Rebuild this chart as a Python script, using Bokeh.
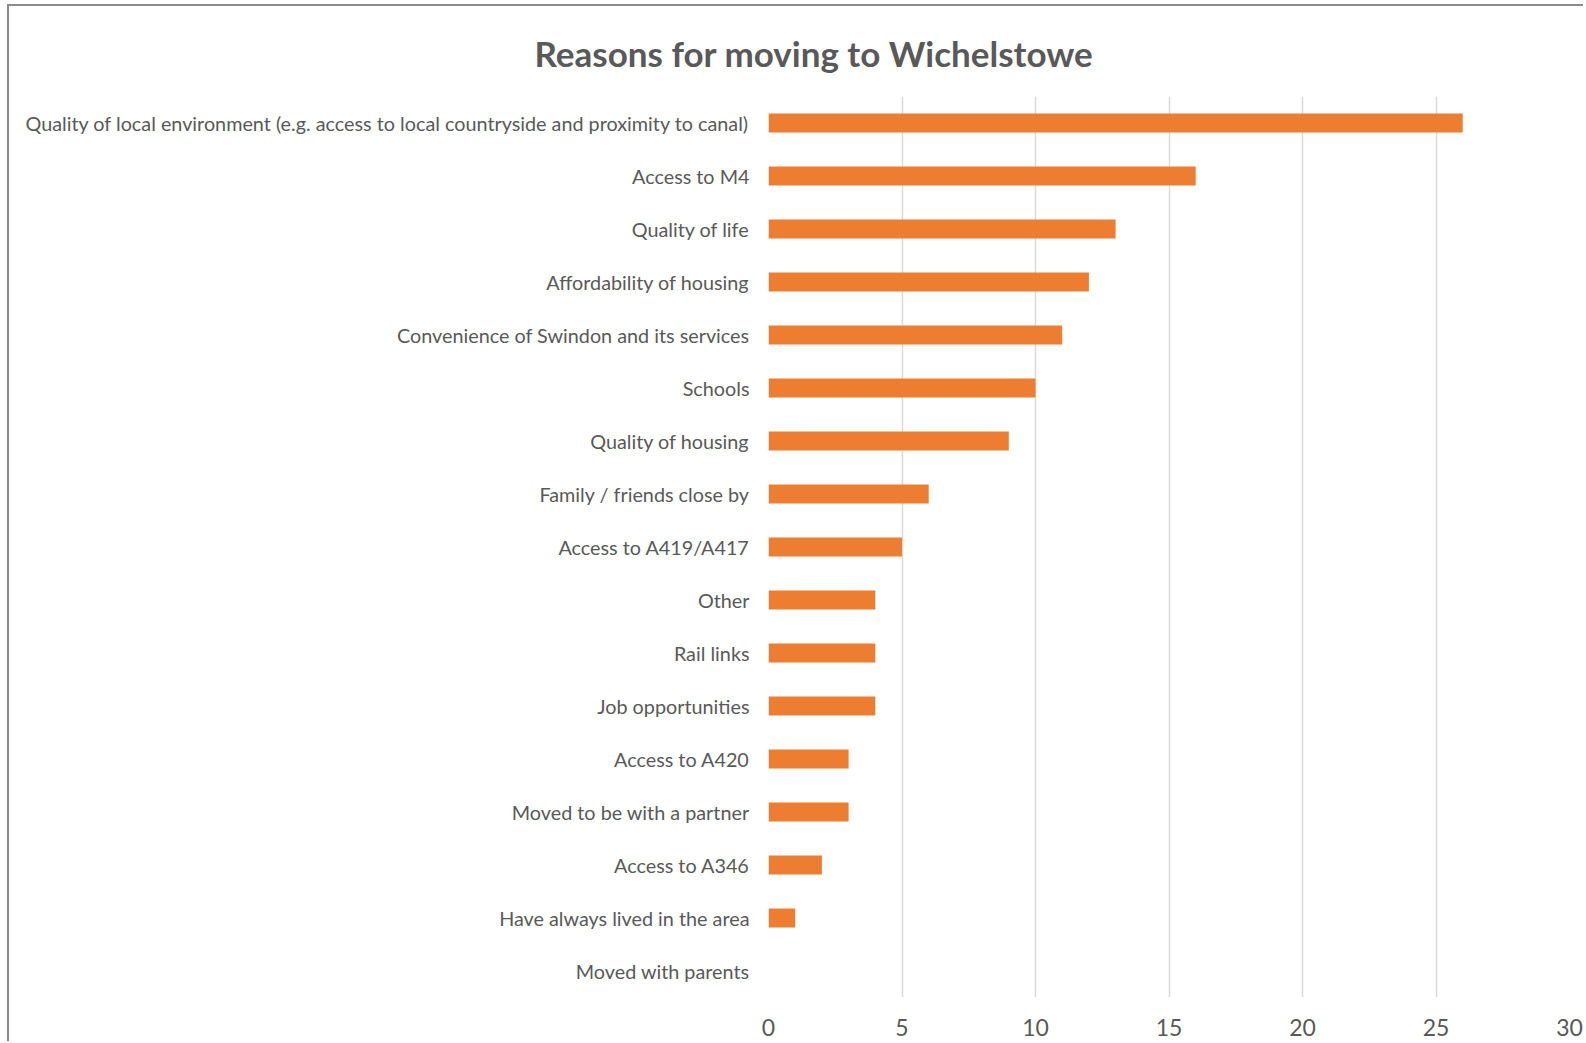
from bokeh.plotting import figure
from bokeh.models import FactorRange, Range1d, FixedTicker, Title
from bokeh.embed import file_html
from bokeh.resources import INLINE

categories = [
    "Quality of local environment (e.g. access to local countryside and proximity to canal)",
    "Access to M4",
    "Quality of life",
    "Affordability of housing",
    "Convenience of Swindon and its services",
    "Schools",
    "Quality of housing",
    "Family / friends close by",
    "Access to A419/A417",
    "Other",
    "Rail links",
    "Job opportunities",
    "Access to A420",
    "Moved to be with a partner",
    "Access to A346",
    "Have always lived in the area",
    "Moved with parents",
]
counts = [26, 16, 13, 12, 11, 10, 9, 6, 5, 4, 4, 4, 3, 3, 2, 1, 0]
x_ticks = [0, 5, 10, 15, 20, 25, 30]
title_text = "Reasons for moving to Wichelstowe"

FONT = "Lato"
TEXT = "#595959"

p = figure(
    width=1576, height=1037,
    y_range=FactorRange(factors=list(reversed(categories))),
    x_range=Range1d(0, 30),
    output_backend="svg", toolbar_location=None,
    min_border_left=759, min_border_right=16,
    min_border_top=90, min_border_bottom=46,
)
p.styles = {"border-top": "2px solid #8c8c8c", "border-left": "2px solid #8c8c8c",
            "margin-top": "4px", "margin-left": "7px"}

p.hbar(y=categories, right=counts, left=0, height=0.36,
       fill_color="#ED7D31", line_color=None)

p.outline_line_color = None
p.ygrid.grid_line_color = None
p.xgrid.grid_line_color = "#d9d9d9"
p.xgrid.grid_line_width = 1.5

p.xaxis.ticker = FixedTicker(ticks=x_ticks)
p.xaxis.axis_line_color = None
p.xaxis.major_tick_line_color = None
p.xaxis.minor_tick_line_color = None
p.xaxis.major_tick_out = 0
p.xaxis.major_label_standoff = 21
p.xaxis.major_label_text_font = FONT
p.xaxis.major_label_text_font_size = "23px"
p.xaxis.major_label_text_color = TEXT

p.yaxis.axis_line_color = None
p.yaxis.major_tick_line_color = None
p.yaxis.major_tick_out = 0
p.yaxis.major_label_standoff = 19
p.yaxis.major_label_text_font = FONT
p.yaxis.major_label_text_font_size = "19.8px"
p.yaxis.major_label_text_color = TEXT

p.title.text = ""
title = Title(text=title_text, align="left", offset=-234, standoff=45,
              text_font=FONT, text_font_size="35px", text_font_style="bold",
              text_color=TEXT)
p.add_layout(title, "above")

p.background_fill_color = "white"
p.border_fill_color = "white"

open("out.html", "w").write(file_html(p, INLINE))
